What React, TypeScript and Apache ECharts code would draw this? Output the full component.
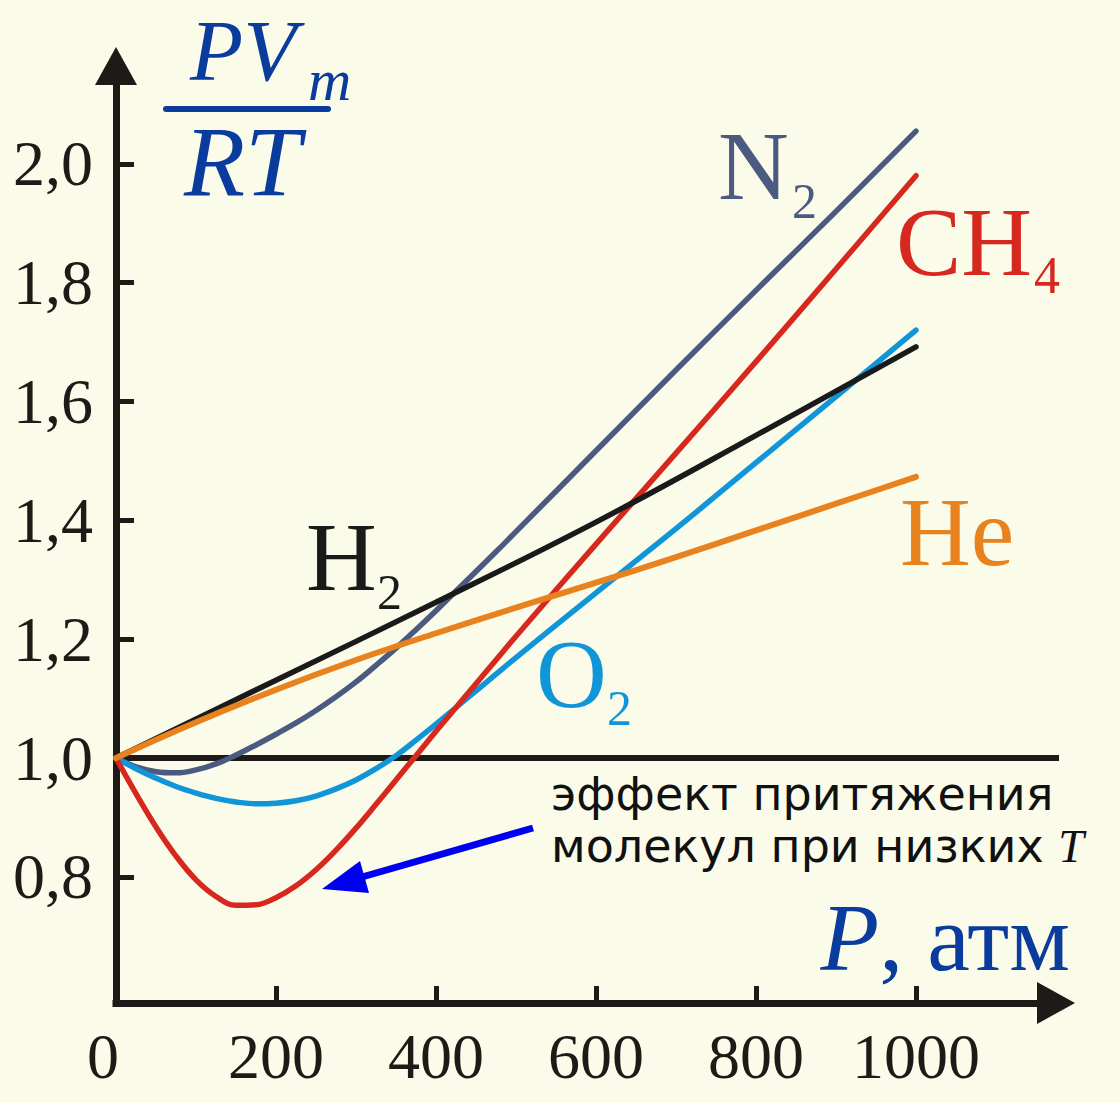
import React, { useEffect, useRef } from "react";
import * as echarts from "echarts";

// ---- data ----
const pressureGrid = [0, 25, 50, 75, 100, 125, 150, 175, 200, 225, 250, 275, 300, 325, 350, 375, 400, 425, 450, 475, 500, 600, 700, 800, 900, 1000];
const n2Values = [1.0, 0.985, 0.977, 0.975, 0.98, 0.99, 1.005, 1.022, 1.04, 1.059, 1.08, 1.103, 1.128, 1.156, 1.185, 1.216, 1.248, 1.281, 1.314, 1.347, 1.381, 1.517, 1.653, 1.787, 1.92, 2.055];
const ch4Values = [1.0, 0.94, 0.884, 0.835, 0.795, 0.767, 0.752, 0.753, 0.765, 0.785, 0.812, 0.845, 0.882, 0.922, 0.963, 1.004, 1.045, 1.085, 1.125, 1.165, 1.205, 1.36, 1.513, 1.667, 1.823, 1.98];
const o2Values = [1.0, 0.982, 0.966, 0.952, 0.941, 0.932, 0.926, 0.923, 0.924, 0.928, 0.936, 0.948, 0.963, 0.982, 1.004, 1.03, 1.057, 1.085, 1.113, 1.141, 1.169, 1.278, 1.386, 1.497, 1.608, 1.72];
const h2Pressure = [0, 200, 400, 600, 800, 1000];
const h2Values = [1.0, 1.131, 1.262, 1.397, 1.543, 1.692];
const hePressure = [0, 100, 200, 300, 400, 500, 600, 700, 800, 900, 1000];
const heValues = [1.0, 1.06, 1.115, 1.165, 1.21, 1.253, 1.295, 1.338, 1.383, 1.428, 1.473];
const idealPressure = [0, 1195];
const idealValues = [1.0, 1.0];

const yTickValues = [0.8, 1.0, 1.2, 1.4, 1.6, 1.8, 2.0];
const xLabelValues = [0, 200, 400, 600, 800, 1000];
const xTickValues = [200, 400, 600, 800, 1000];

const BG = "#fbfbe9";
const INK = "#1e1a18";
const BLUE_TXT = "#0a3c9e";
const C_N2 = "#4b5a80";
const C_CH4 = "#d6281f";
const C_O2 = "#1096d8";
const C_H2 = "#1a1a1a";
const C_HE = "#e8821e";
const SERIF = "'Liberation Serif', 'Times New Roman', serif";
const SANS = "'DejaVu Sans', Verdana, sans-serif";

const pairs = (xs: number[], ys: number[]) => xs.map((x, i) => [x, ys[i]]);

function txt(text: string, x: number, y: number, font: string, fill: string, align = "left", lineHeight?: number) {
  const style: any = { text, font, fill, align, textAlign: align, verticalAlign: "middle", textVerticalAlign: "middle" };
  if (lineHeight) style.lineHeight = lineHeight;
  return { type: "text", x, y, silent: true, style };
}

export default function App() {
  const ref = useRef<HTMLDivElement>(null);
  useEffect(() => {
    document.body.style.margin = "0";
    document.body.style.background = BG;
    const chart = echarts.init(ref.current!, undefined, { renderer: "svg" });
    const lineSeries = (name: string, data: number[][], color: string, width: number, z = 2) => ({
      name,
      type: "line",
      data,
      smooth: 0.4,
      symbol: "none",
      silent: true,
      z,
      lineStyle: { color, width, cap: "round", join: "round" },
      emphasis: { disabled: true },
    });
    const option = {
      animation: false,
      backgroundColor: BG,
      grid: { left: 116, right: 64, top: 66, bottom: 100, outerBoundsMode: "none" },
      xAxis: {
        type: "value",
        min: 0,
        max: 1175,
        axisLine: {
          show: true,
          onZero: false,
          symbol: ["none", "triangle"],
          symbolSize: [42, 38],
          lineStyle: { color: INK, width: 7, cap: "square" },
        },
        axisTick: { show: true, inside: true, length: 17, customValues: xTickValues, lineStyle: { color: INK, width: 5 } },
        axisLabel: {
          customValues: xLabelValues,
          margin: 21,
          fontSize: 64,
          fontFamily: SERIF,
          color: INK,
          formatter: (v: number) => (v === 0 ? "{z|0}" : String(v)),
          rich: { z: { fontSize: 64, fontFamily: SERIF, color: INK, padding: [0, 26, 0, 0] } },
        },
        splitLine: { show: false },
      },
      yAxis: {
        type: "value",
        min: 0.5877,
        max: 2.1646,
        axisLine: {
          show: true,
          onZero: false,
          symbol: ["none", "triangle"],
          symbolSize: [42, 38],
          lineStyle: { color: INK, width: 7, cap: "square" },
        },
        axisTick: { show: true, inside: true, length: 18, customValues: yTickValues, lineStyle: { color: INK, width: 5 } },
        axisLabel: {
          customValues: yTickValues,
          margin: 23,
          fontSize: 64,
          fontFamily: SERIF,
          color: INK,
          formatter: (v: number) => v.toFixed(1).replace(".", ","),
        },
        splitLine: { show: false },
      },
      series: [
        { ...lineSeries("ideal", pairs(idealPressure, idealValues), INK, 6, 1), smooth: false, clip: false },
        lineSeries("H2", pairs(h2Pressure, h2Values), C_H2, 5.5, 3),
        lineSeries("He", pairs(hePressure, heValues), C_HE, 6, 3),
        lineSeries("N2", pairs(pressureGrid, n2Values), C_N2, 5.5, 2),
        lineSeries("O2", pairs(pressureGrid, o2Values), C_O2, 5.5, 2),
        lineSeries("CH4", pairs(pressureGrid, ch4Values), C_CH4, 5.5, 2),
      ],
      graphic: [
        // y-axis title PV_m / RT
        txt("PV", 190, 50, `italic 87px ${SERIF}`, BLUE_TXT, "left", 64),
        txt("m", 308, 80, `italic 60px ${SERIF}`, BLUE_TXT, "left", 40),
        {
          type: "line",
          silent: true,
          shape: { x1: 166, y1: 109, x2: 328, y2: 109 },
          style: { stroke: BLUE_TXT, lineWidth: 6, lineCap: "round" },
        },
        txt("RT", 184, 161, `italic 100px ${SERIF}`, BLUE_TXT, "left", 72),
        // series labels
        txt("N", 718, 166, `98px ${SERIF}`, C_N2),
        txt("2", 792, 201, `50px ${SERIF}`, C_N2),
        txt("CH", 896, 242, `98px ${SERIF}`, C_CH4),
        txt("4", 1034, 275, `52px ${SERIF}`, C_CH4),
        txt("He", 900, 532, `98px ${SERIF}`, C_HE),
        txt("H", 306, 557, `98px ${SERIF}`, C_H2),
        txt("2", 377, 592, `50px ${SERIF}`, C_H2),
        txt("O", 536, 674, `98px ${SERIF}`, C_O2),
        txt("2", 607, 708, `50px ${SERIF}`, C_O2),
        // x-axis title
        {
          type: "text",
          x: 1070,
          y: 937,
          silent: true,
          style: {
            text: "{p|P}{r|, атм}",
            align: "right",
            textAlign: "right",
            verticalAlign: "middle",
            textVerticalAlign: "middle",
            rich: {
              p: { font: `italic 96px ${SERIF}`, fill: BLUE_TXT, color: BLUE_TXT },
              r: { font: `96px ${SERIF}`, fill: BLUE_TXT, color: BLUE_TXT },
            },
          },
        },
        // annotation
        txt("эффект притяжения", 551, 794, `46px ${SANS}`, "#111111"),
        {
          type: "text",
          x: 551,
          y: 846,
          silent: true,
          style: {
            text: "{s|молекул при низких }{t|T}",
            align: "left",
            textAlign: "left",
            verticalAlign: "middle",
            textVerticalAlign: "middle",
            rich: {
              s: { font: `46px ${SANS}`, fill: "#111111", color: "#111111" },
              t: { font: `italic 46px ${SERIF}`, fill: "#111111", color: "#111111" },
            },
          },
        },
        // blue arrow
        {
          type: "line",
          silent: true,
          shape: { x1: 533, y1: 828, x2: 362, y2: 877 },
          style: { stroke: "#0000f0", lineWidth: 7 },
        },
        {
          type: "polygon",
          silent: true,
          shape: { points: [[322, 889], [360, 861], [369, 893]] },
          style: { fill: "#0000f0" },
        },
      ],
    };
    chart.setOption(option as any);
    return () => chart.dispose();
  }, []);
  return <div ref={ref} style={{ width: 1120, height: 1103 }} />;
}
